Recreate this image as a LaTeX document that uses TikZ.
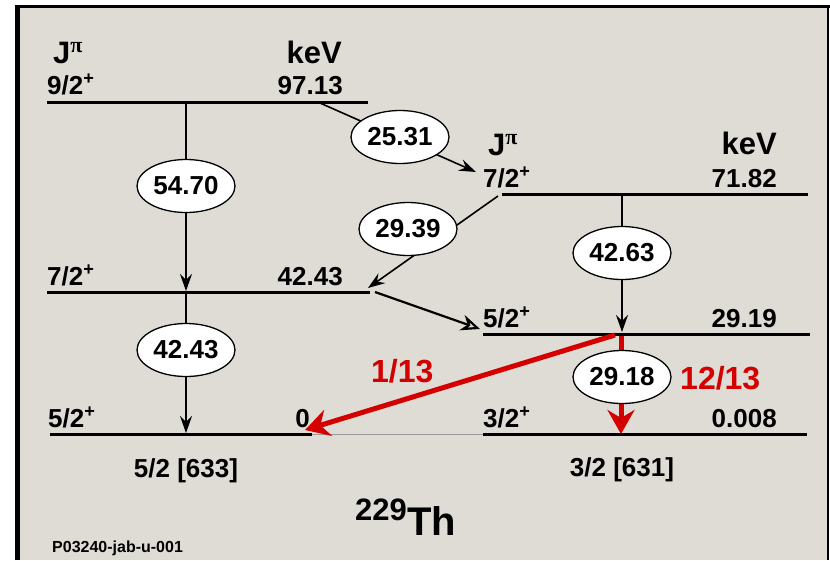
\documentclass[tikz,border=0pt]{standalone}
\usepackage{fontspec}
\setmainfont{Liberation Sans}
\newfontfamily\greekfnt{Liberation Serif}
\usepackage{tikz}
\usetikzlibrary{arrows.meta, shapes.geometric}
\definecolor{panelgray}{RGB}{223,220,214}
\definecolor{decayred}{RGB}{212,0,0}
\newcommand{\spin}[1]{#1\textsuperscript{+}}
\newcommand{\jpi}{J\raisebox{11pt}{\fontsize{22}{22}\selectfont\greekfnt π}}

\begin{document}
\begin{tikzpicture}[x=1pt, y=-1pt, every node/.style={inner sep=0pt}]
\tikzset{
  level/.style={line width=3pt},
  trans/.style={line width=1.6pt, -{Stealth[length=17pt, width=12pt, inset=6pt]}},
  gam/.style={
    ellipse, draw=black, line width=1.3pt, fill=white,
    minimum width=98pt, minimum height=53pt,
    font=\fontsize{26}{28}\selectfont\bfseries
  },
  lab/.style={font=\fontsize{26}{28}\selectfont\bfseries},
  head/.style={font=\fontsize{31}{34}\selectfont\bfseries},
  ratio/.style={font=\fontsize{32}{34}\selectfont\bfseries, text=decayred},
  redtrans/.style={draw=decayred, line width=5pt, -{Stealth[length=24pt, width=27pt, inset=8pt]}}
}
\useasboundingbox (0,0) rectangle (830,560);

% panel
\fill[panelgray] (17,6) rectangle (828,560);
\draw[line width=5pt] (17.5,560) -- (17.5,6);
\draw[line width=3pt] (15,6) -- (829.5,6);
\draw[line width=2.5pt] (828,4.5) -- (828,560);

% level end points
\coordinate (a97l) at (47,102);   \coordinate (a97r) at (368,102);
\coordinate (a42l) at (47,292);   \coordinate (a42r) at (370,292);
\coordinate (a0l) at (50,434);    \coordinate (a0r) at (312,434);
\coordinate (b71l) at (502,194);  \coordinate (b71r) at (808,194);
\coordinate (b29l) at (483,334);  \coordinate (b29r) at (810,334);
\coordinate (b0l) at (483,434);   \coordinate (b0r) at (807,434);

\draw[level] (a97l) -- (a97r);
\draw[level] (a42l) -- (a42r);
\draw[level] (a0l) -- (a0r);
\draw[line width=1pt, black!40] (a0r) -- (b0l);
\draw[level] (b71l) -- (b71r);
\draw[level] (b29l) -- (b29r);
\draw[level] (b0l) -- (b0r);

% transitions
\coordinate (s5470) at (186,102);  \coordinate (e5470) at (186,291);
\coordinate (s4243) at (186,292);  \coordinate (e4243) at (186,433);
\coordinate (s2531) at (320,103);  \coordinate (e2531) at (476,172);
\coordinate (s2939) at (498,196);  \coordinate (e2939) at (368,288);
\coordinate (s4263) at (622,194);  \coordinate (e4263) at (622,332);
\coordinate (sopen) at (375,292);  \coordinate (eopen) at (480,329);
\coordinate (sred) at (615,335);   \coordinate (ered) at (305,430);
\coordinate (s2918) at (621,336);  \coordinate (e2918) at (621,434);

\draw[trans] (s5470) -- (e5470);
\draw[trans] (s4243) -- (e4243);
\draw[trans] (s2531) -- (e2531);
\draw[trans] (s2939) -- (e2939);
\draw[trans] (s4263) -- (e4263);
\draw[line width=2.2pt, -{Stealth[open, length=19pt, width=16pt, inset=6pt]}] (sopen) -- (eopen);
\draw[redtrans] (sred) -- (ered);
\draw[redtrans] (s2918) -- (e2918);

\node[gam] (g5470) at (186,186) {54.70};
\node[gam] (g2531) at (400,137) {25.31};
\node[gam] (g2939) at (408,229) {29.39};
\node[gam] (g4263) at (622,253) {42.63};
\node[gam] (g4243) at (186,350) {42.43};
\node[gam] (g2918) at (622,377) {29.18};

% left band
\node[head, anchor=base west] (jpia) at (53,63) {\jpi};
\node[head, anchor=base east] (keva) at (342,63) {keV};
\node[lab, anchor=base west] (j97) at (47,94) {\spin{9/2}};
\node[lab, anchor=base east] (e97) at (343,94) {97.13};
\node[lab, anchor=base west] (j42) at (47,285) {\spin{7/2}};
\node[lab, anchor=base east] (e42) at (343,285) {42.43};
\node[lab, anchor=base west] (j0) at (48,427) {\spin{5/2}};
\node[lab, anchor=base east] (e0) at (310,427) {0};
\node[lab, anchor=base] (nila) at (186,477) {5/2 [633]};

% right band
\node[head, anchor=base west] (jpib) at (488,155) {\jpi};
\node[head, anchor=base east] (kevb) at (777,154) {keV};
\node[lab, anchor=base west] (j71) at (483,187) {\spin{7/2}};
\node[lab, anchor=base east] (e71) at (777,187) {71.82};
\node[lab, anchor=base west] (j29) at (483,327) {\spin{5/2}};
\node[lab, anchor=base east] (e29) at (777,327) {29.19};
\node[lab, anchor=base west] (j008) at (483,427) {\spin{3/2}};
\node[lab, anchor=base east] (e008) at (777,427) {0.008};
\node[lab, anchor=base] (nilb) at (622,476) {3/2 [631]};

% branching
\node[ratio, anchor=base west] (br1) at (371,382) {1/13};
\node[ratio, anchor=base west] (br12) at (680,389) {12/13};

% nucleus and tag
\node[font=\fontsize{40}{44}\selectfont\bfseries, anchor=base west] (th) at (407,535) {Th};
\node[font=\fontsize{31}{34}\selectfont\bfseries, anchor=base east] (mass) at (407,520) {229};
\node[font=\fontsize{16}{18}\selectfont\bfseries, anchor=base west] (tag) at (52,552) {P03240-jab-u-001};
\end{tikzpicture}
\end{document}
